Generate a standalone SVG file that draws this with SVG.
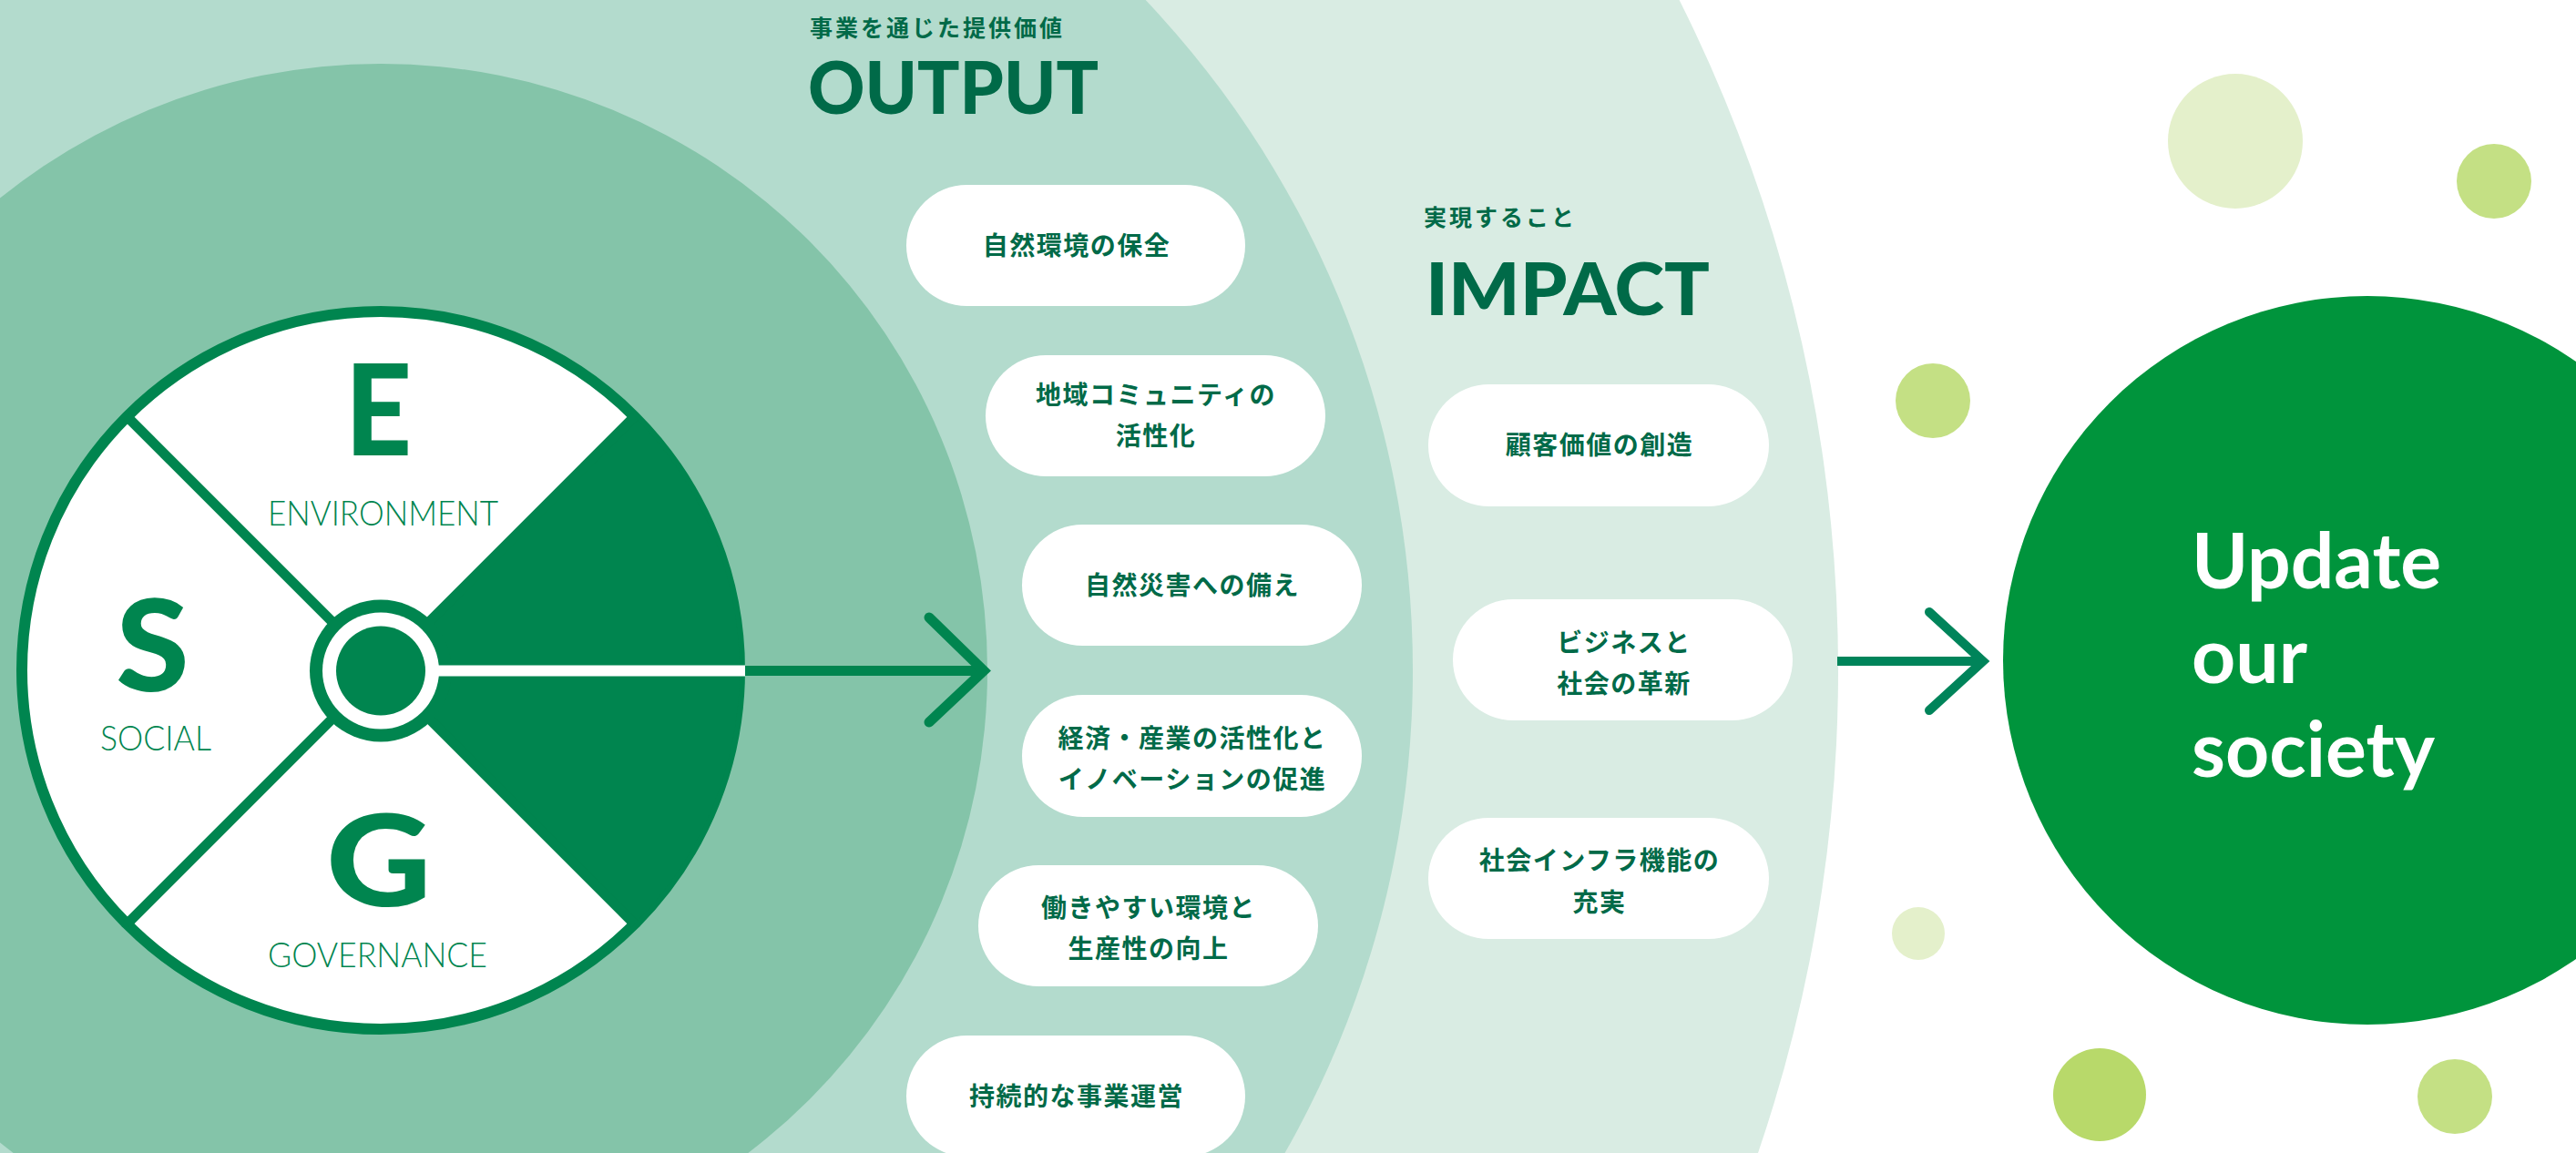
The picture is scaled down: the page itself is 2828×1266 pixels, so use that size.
<svg xmlns="http://www.w3.org/2000/svg" width="2828" height="1266" viewBox="0 0 2828 1266">
<style>
.pill{fill:#ffffff}
.pt{font-family:"Noto Sans CJK JP","Noto Sans",sans-serif;font-weight:700;font-size:28px;fill:#006A48;letter-spacing:1.5px;text-anchor:middle}
.lbl{font-family:"Noto Sans CJK JP","Noto Sans",sans-serif;font-weight:700;font-size:25px;fill:#006A48;letter-spacing:3px}
.ttl{font-family:Lato,"Liberation Sans",sans-serif;font-weight:900;font-size:80px;fill:#006A48}
.big{font-family:Lato,"Liberation Sans",sans-serif;font-weight:900;font-size:139px;fill:#00854F;text-anchor:middle}
.sub{font-family:Lato,"Liberation Sans",sans-serif;font-weight:300;font-size:38px;fill:#00854F;text-anchor:middle}
.upd{font-family:Lato,"Open Sans",sans-serif;font-weight:700;font-size:84px;fill:#ffffff}
.conn{fill:none;stroke:#00854F;stroke-width:11;stroke-linecap:round}
</style>
<rect x="0" y="0" width="2828" height="1266" fill="#ffffff"/>
<g id="bands">
<circle cx="378" cy="736" r="1640" fill="#D9ECE3"/>
<circle cx="481" cy="736" r="1070" fill="#B3DBCD"/>
<circle cx="418" cy="736" r="666" fill="#84C4A9"/>
</g>
<g id="dots">
<circle cx="2454" cy="155" r="74" fill="#E4F0CB"/>
<circle cx="2738" cy="199" r="41" fill="#C4E084"/>
<circle cx="2122" cy="440" r="41" fill="#C4E084"/>
<circle cx="2106" cy="1025" r="29" fill="#E4F0CB"/>
<circle cx="2305" cy="1202" r="51" fill="#B8D96A"/>
<circle cx="2695" cy="1204" r="41" fill="#C4E084"/>
</g>
<g id="esg">
<circle cx="418" cy="736" r="394" fill="#ffffff" stroke="#00854F" stroke-width="12"/>
<path d="M418 736 L696.6 457.4 A394 394 0 0 1 696.6 1014.6 Z" fill="#00854F"/>
<line x1="139.4" y1="457.4" x2="696.6" y2="1014.6" stroke="#00854F" stroke-width="11"/>
<line x1="139.4" y1="1014.6" x2="696.6" y2="457.4" stroke="#00854F" stroke-width="11"/>
<circle cx="418" cy="736.5" r="78" fill="#00854F"/>
<line x1="418" y1="736.5" x2="818" y2="736.5" stroke="#ffffff" stroke-width="12"/>
<circle cx="418" cy="736.5" r="64" fill="#ffffff"/>
<circle cx="418" cy="736.5" r="49" fill="#00854F"/>
<text class="big" transform="translate(415.5 500) scale(0.92 1)">E</text>
<text class="big" transform="translate(167.5 759) scale(1.05 1)">S</text>
<text class="big" transform="translate(416 995) scale(1.15 1)">G</text>
<text class="sub" x="420.5" y="577" textLength="253" lengthAdjust="spacingAndGlyphs">ENVIRONMENT</text>
<text class="sub" x="171" y="824" textLength="122" lengthAdjust="spacingAndGlyphs">SOCIAL</text>
<text class="sub" x="414.5" y="1062" textLength="241" lengthAdjust="spacingAndGlyphs">GOVERNANCE</text>
</g>
<g id="connectors">
<line class="conn" x1="818" y1="736.5" x2="1078" y2="736.5" style="stroke-linecap:butt"/>
<polyline class="conn" points="1020,678 1080,736.5 1020,793" style="stroke-linejoin:miter"/>
<line class="conn" x1="2017" y1="726" x2="2174" y2="726" style="stroke:#00845A;stroke-width:10;stroke-linecap:butt"/>
<polyline class="conn" points="2118,672 2177,726 2118,780" style="stroke:#00845A;stroke-width:10;stroke-linejoin:miter"/>
</g>
<g id="output-header">
<text class="lbl" x="889" y="40">事業を通じた提供価値</text>
<text class="ttl" x="887" y="125" textLength="319" lengthAdjust="spacingAndGlyphs">OUTPUT</text>
</g>
<g id="impact-header">
<text class="lbl" x="1563" y="248">実現すること</text>
<text class="ttl" x="1565" y="345.6" textLength="312" lengthAdjust="spacingAndGlyphs">IMPACT</text>
</g>
<g id="out1"><rect class="pill" x="995" y="203" width="372" height="133" rx="66.5"/><text class="pt" x="1182" y="280">自然環境の保全</text></g>
<g id="out2"><rect class="pill" x="1082" y="390" width="373" height="133" rx="66.5"/><text class="pt" x="1269" y="444">地域コミュニティの</text><text class="pt" x="1269" y="489">活性化</text></g>
<g id="out3"><rect class="pill" x="1122" y="576" width="373" height="133" rx="66.5"/><text class="pt" x="1309" y="653">自然災害への備え</text></g>
<g id="out4"><rect class="pill" x="1122" y="763" width="373" height="134" rx="67"/><text class="pt" x="1309" y="821">経済・産業の活性化と</text><text class="pt" x="1309" y="866">イノベーションの促進</text></g>
<g id="out5"><rect class="pill" x="1074" y="950" width="373" height="133" rx="66.5"/><text class="pt" x="1261" y="1007">働きやすい環境と</text><text class="pt" x="1261" y="1052">生産性の向上</text></g>
<g id="out6"><rect class="pill" x="995" y="1137" width="372" height="133" rx="66.5"/><text class="pt" x="1182" y="1214">持続的な事業運営</text></g>
<g id="imp1"><rect class="pill" x="1568" y="422" width="374" height="134" rx="67"/><text class="pt" x="1756" y="499">顧客価値の創造</text></g>
<g id="imp2"><rect class="pill" x="1595" y="658" width="373" height="133" rx="66.5"/><text class="pt" x="1783" y="716">ビジネスと</text><text class="pt" x="1783" y="761">社会の革新</text></g>
<g id="imp3"><rect class="pill" x="1568" y="898" width="374" height="133" rx="66.5"/><text class="pt" x="1756" y="955">社会インフラ機能の</text><text class="pt" x="1756" y="1001">充実</text></g>
<g id="society">
<circle cx="2599" cy="725" r="400" fill="#00943C"/>
<text class="upd" x="2406" y="646">Update</text>
<text class="upd" x="2406" y="750">our</text>
<text class="upd" x="2406" y="853">society</text>
</g>
</svg>
